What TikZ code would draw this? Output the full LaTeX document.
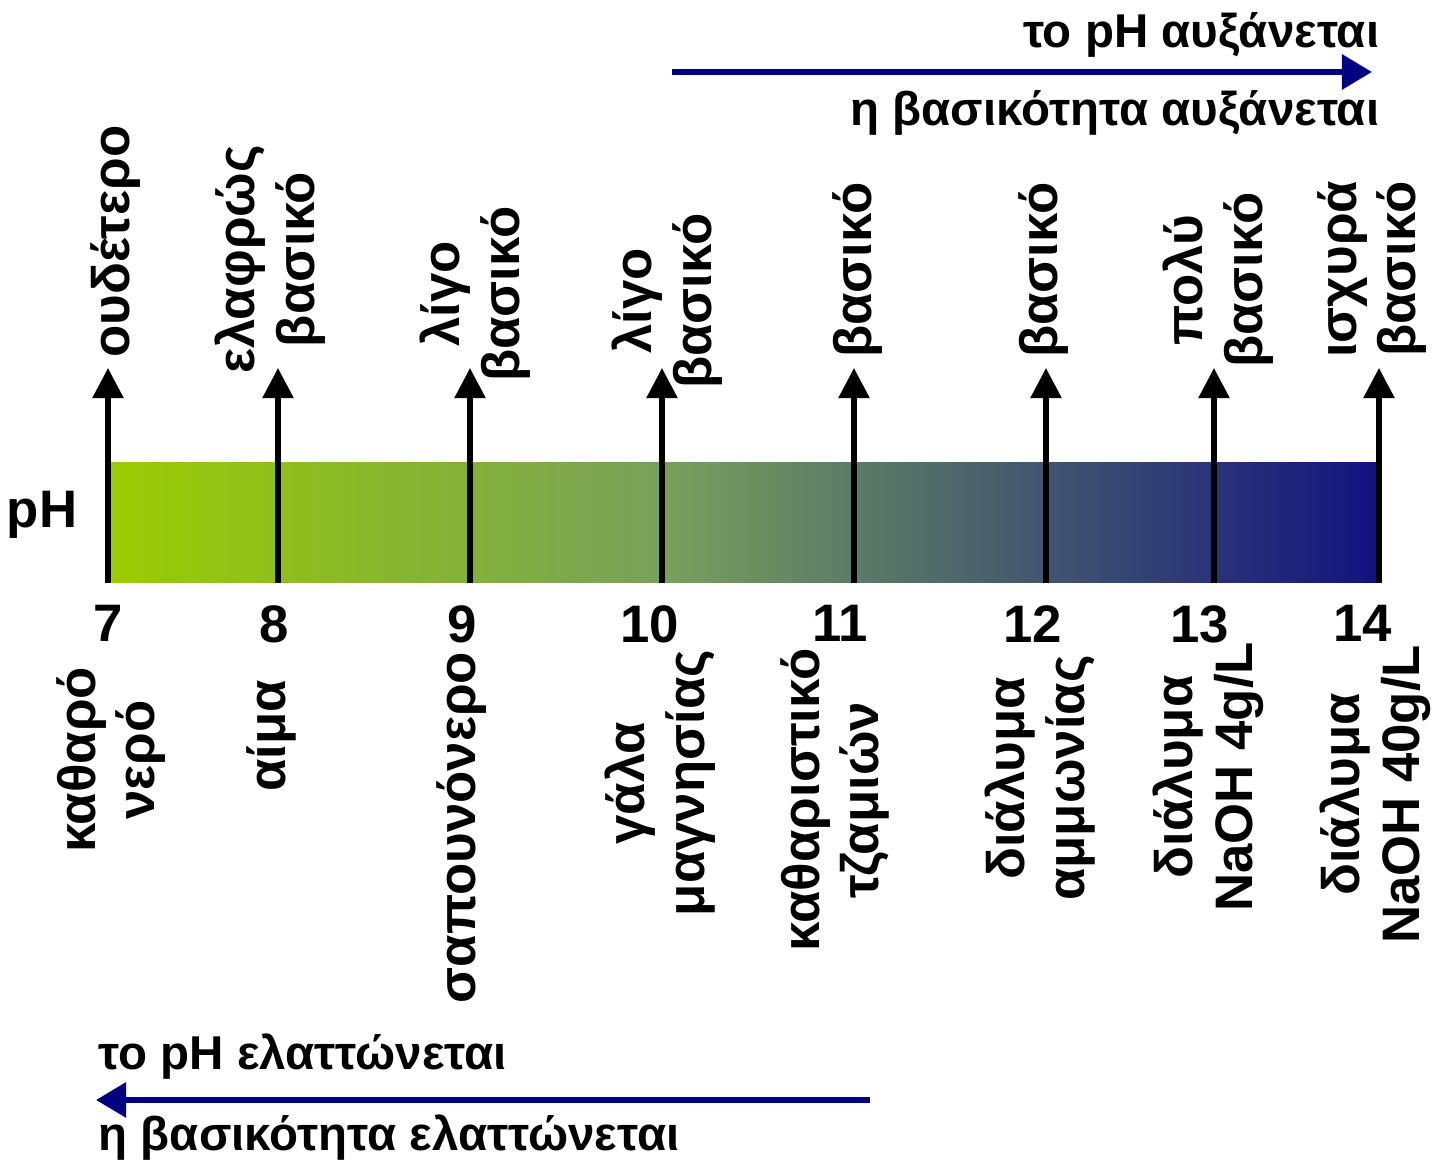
\documentclass[tikz,border=0pt]{standalone}
\usepackage{fontspec}
\setmainfont{Liberation Sans}
\usepackage{tikz}
\usetikzlibrary{positioning,calc,arrows.meta}

\definecolor{phgreen}{RGB}{155,204,0}
\definecolor{phmid}{RGB}{120,160,92}
\definecolor{phnavy}{RGB}{18,18,128}
\definecolor{arrnavy}{RGB}{0,0,128}
\pgfdeclarehorizontalshading{phbar}{100bp}{color(0bp)=(phgreen); color(25bp)=(phgreen); color(47bp)=(phmid); color(75bp)=(phnavy); color(100bp)=(phnavy)}

\tikzset{
  tick/.style={line width=1.5pt, -{Triangle[length=0.3cm,width=0.3cm]}},
  trend/.style={line width=1.7pt, draw=arrnavy, -{Triangle[length=0.3cm,width=0.34cm]}},
  uplabel/.style={rotate=90, anchor=west, align=center, inner sep=1pt, font=\fontsize{15}{17}\selectfont\bfseries},
  downlabel/.style={rotate=90, anchor=east, align=center, inner sep=1pt, font=\fontsize{15}{17}\selectfont\bfseries},
  value/.style={anchor=north, inner sep=0pt, font=\fontsize{15}{17}\selectfont\bfseries},
  trendtext/.style={inner sep=0pt, font=\fontsize{13.5}{15}\selectfont\bfseries}
}

\begin{document}
\begin{tikzpicture}[x=0.01cm, y=-0.01cm]
			\useasboundingbox (0,0) rectangle (1444,1165);
			% bar
			\shade[shading=phbar] (108,463) rectangle (1379,583);
			\node[inner sep=0pt, font=\fontsize{15}{17}\selectfont\bfseries] (ph) at (42,515) {pH};
			% ticks with tips
			\coordinate (b7) at (108,583);  \coordinate (t7) at (108,368);
			\coordinate (b8) at (278,583);  \coordinate (t8) at (278,368);
			\coordinate (b9) at (470,583);  \coordinate (t9) at (470,368);
			\coordinate (b10) at (662,583); \coordinate (t10) at (662,368);
			\coordinate (b11) at (854,583); \coordinate (t11) at (854,368);
			\coordinate (b12) at (1046,583); \coordinate (t12) at (1046,368);
			\coordinate (b13) at (1214,583); \coordinate (t13) at (1214,368);
			\coordinate (b14) at (1379,583); \coordinate (t14) at (1379,368);
			\draw[tick] (b7) -- (t7);
			\draw[tick] (b8) -- (t8);
			\draw[tick] (b9) -- (t9);
			\draw[tick] (b10) -- (t10);
			\draw[tick] (b11) -- (t11);
			\draw[tick] (b12) -- (t12);
			\draw[tick] (b13) -- (t13);
			\draw[tick] (b14) -- (t14);
			% what kind
			\node[uplabel] (k7) at ($(t7)+(8,-6)$) {ουδέτερο};
			\node[uplabel] (k8) at ($(t8)+(-8,10)$) {ελαφρώς\\βασικό};
			\node[uplabel] (k9) at ($(t9)+(5,18)$) {λίγο\\βασικό};
			\node[uplabel] (k10) at ($(t10)+(5,25)$) {λίγο\\βασικό};
			\node[uplabel] (k11) at ($(t11)+(4,-6)$) {βασικό};
			\node[uplabel] (k12) at ($(t12)+(-2,-6)$) {βασικό};
			\node[uplabel] (k13) at ($(t13)+(4,4)$) {πολύ\\βασικό};
			\node[uplabel] (k14) at ($(t14)+(-7,-6)$) {ισχυρά\\βασικό};
			% values
			\node[value] (v7) at ($(b7)+(0,22)$) {7};
			\node[value] (v8) at ($(b8)+(-4,22)$) {8};
			\node[value] (v9) at ($(b9)+(-8,22)$) {9};
			\node[value] (v10) at ($(b10)+(-12,22)$) {10};
			\node[value] (v11) at ($(b11)+(-14,22)$) {11};
			\node[value] (v12) at ($(b12)+(-13,22)$) {12};
			\node[value] (v13) at ($(b13)+(-14,22)$) {13};
			\node[value] (v14) at ($(b14)+(-16,22)$) {14};
			% examples
			\node[downlabel] (e7) at ($(v7.south)+(3,20)$) {καθαρό\\νερό};
			\node[downlabel] (e8) at ($(v8.south)+(-3,32)$) {αίμα};
			\node[downlabel] (e9) at ($(v9.south)+(0,4)$) {σαπουνόνερο};
			\node[downlabel] (e10) at ($(v10.south)+(10,2)$) {γάλα\\μαγνησίας};
			\node[downlabel] (e11) at ($(v11.south)+(-5,2)$) {καθαριστικό\\τζαμιών};
			\node[downlabel] (e12) at ($(v12.south)+(7,8)$) {διάλυμα\\αμμωνίας};
			\node[downlabel] (e13) at ($(v13.south)+(8,-6)$) {διάλυμα\\NaOH 4g/L};
			\node[downlabel] (e14) at ($(v14.south)+(12,-2)$) {διάλυμα\\NaOH 40g/L};
			% trends
			\coordinate (up0) at (672,72);
			\coordinate (up1) at (1372,72);
			\draw[trend] (up0) -- (up1);
			\node[trendtext, anchor=east] (uptop) at (1380,35) {το pH αυξάνεται};
			\node[trendtext, anchor=east] (upbot) at (1380,113) {η βασικότητα αυξάνεται};
			\coordinate (down0) at (870,1100);
			\coordinate (down1) at (96,1100);
			\draw[trend] (down0) -- (down1);
			\node[trendtext, anchor=west] (downtop) at (98,1057) {το pH ελαττώνεται};
			\node[trendtext, anchor=west] (downbot) at (98,1138) {η βασικότητα ελαττώνεται};
		\end{tikzpicture}
\end{document}
